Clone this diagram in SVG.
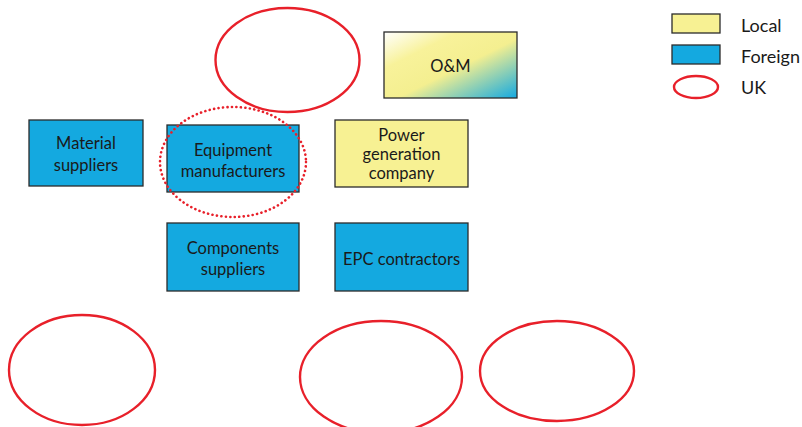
<svg xmlns="http://www.w3.org/2000/svg" width="802" height="427" viewBox="0 0 802 427">
  <style>
    .box { stroke: #2b2b2b; stroke-width: 1.3; }
    .local { fill: #f7f193; }
    .foreign { fill: #14a9e0; }
    .uk { fill: none; stroke: #e8202a; stroke-width: 2.4; }
    .uk-dot { fill: none; stroke: #e8202a; stroke-width: 2.6; stroke-dasharray: 0.1 4.4; stroke-linecap: round; }
    text { font-family: "Lato", "Open Sans", "Liberation Sans", sans-serif; font-size: 16.5px; fill: #1a1a1a; text-anchor: middle; }
    .legend-text { font-size: 18px; text-anchor: start; }
  </style>
  <defs>
    <linearGradient id="mixed" x1="0" y1="0" x2="1" y2="1">
      <stop offset="0" stop-color="#ffffff"/>
      <stop offset="0.28" stop-color="#f8f29a"/>
      <stop offset="0.55" stop-color="#f4ef90"/>
      <stop offset="1" stop-color="#12a9e2"/>
    </linearGradient>
  </defs>

  <!-- UK ellipses -->
  <g id="uk-top">
    <ellipse class="uk" cx="287.5" cy="60" rx="72" ry="52"/>
  </g>

  <g id="om">
    <rect class="box" x="384" y="32" width="133" height="66" fill="url(#mixed)"/>
    <text x="450.5" y="72">O&amp;M</text>
  </g>

  <g id="material-suppliers">
    <rect class="box foreign" x="29" y="120" width="114" height="66"/>
    <text x="86" y="149">Material</text>
    <text x="86" y="171">suppliers</text>
  </g>

  <g id="equipment-manufacturers">
    <rect class="box foreign" x="167" y="125" width="132" height="67"/>
    <text x="233" y="156">Equipment</text>
    <text x="233" y="177">manufacturers</text>
    <ellipse class="uk-dot" cx="233" cy="162" rx="73" ry="55"/>
  </g>

  <g id="power-generation-company">
    <rect class="box local" x="335" y="120" width="133" height="67"/>
    <text x="401.5" y="141">Power</text>
    <text x="401.5" y="160">generation</text>
    <text x="401.5" y="179">company</text>
  </g>

  <g id="components-suppliers">
    <rect class="box foreign" x="167" y="223" width="132" height="68"/>
    <text x="233" y="254">Components</text>
    <text x="233" y="275">suppliers</text>
  </g>

  <g id="epc-contractors">
    <rect class="box foreign" x="335" y="223" width="133" height="68"/>
    <text x="401.5" y="265">EPC contractors</text>
  </g>

  <g id="uk-bottom-left">
    <ellipse class="uk" cx="82" cy="370" rx="73" ry="55"/>
  </g>
  <g id="uk-bottom-middle">
    <ellipse class="uk" cx="381" cy="377" rx="81" ry="56"/>
  </g>
  <g id="uk-bottom-right">
    <ellipse class="uk" cx="557" cy="371" rx="77" ry="50"/>
  </g>

  <g id="connectors"></g>

  <!-- Legend -->
  <g id="legend">
    <rect class="box local" x="672" y="14" width="48" height="19"/>
    <text class="legend-text" x="741" y="32">Local</text>
    <rect class="box foreign" x="672" y="45" width="48" height="19"/>
    <text class="legend-text" x="741" y="63">Foreign</text>
    <ellipse class="uk" cx="696" cy="87" rx="22" ry="11"/>
    <text class="legend-text" x="741" y="94">UK</text>
  </g>
</svg>
